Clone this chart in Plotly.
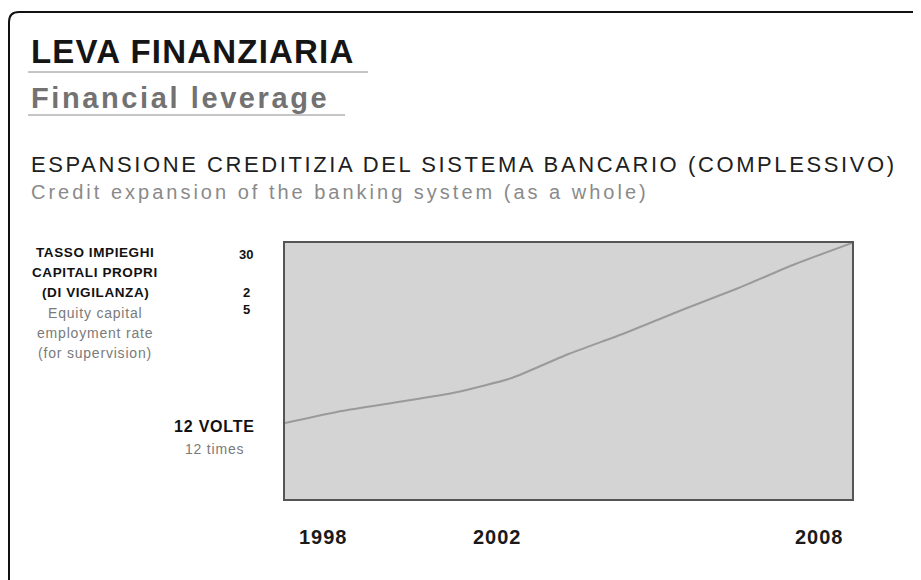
import plotly.graph_objects as go

# ---- data ----
years = [1998, 1999, 2000, 2001, 2002, 2003, 2004, 2005, 2006, 2007, 2008]
leverage = [12.0, 13.2, 14.1, 15.05, 16.5, 18.9, 21.0, 23.3, 25.5, 27.9, 30.0]

x_label_years = [1998, 2002, 2008]
x_label_text = ["1998", "2002", "2008"]

y_label_values = [30, 25]
y_label_text = ["30", "2<br>5"]

title_it = "LEVA FINANZIARIA"
title_en = "Financial leverage"
sub_it = "ESPANSIONE CREDITIZIA DEL SISTEMA BANCARIO (COMPLESSIVO)"
sub_en = "Credit expansion of the banking system (as a whole)"
axis_it = ["TASSO IMPIEGHI", "CAPITALI PROPRI", "(DI VIGILANZA)"]
axis_en = ["Equity capital", "employment rate", "(for supervision)"]
base_it = "12 VOLTE"
base_en = "12 times"

# ---- layout geometry (screen coordinates; page body has an 8px margin) ----
OFF = 8
W, H = 921 - OFF, 580 - OFF
L, R, T, B = 285, 852, 243, 499          # plot box in screen coords
PW, PH = R - L, B - T


def px(xs):
    return (xs - L) / PW


def py(ys):
    return (B - ys) / PH


def sp(text, ls):
    return f"<span style='letter-spacing:{ls}px'>{text}</span>"


FONT = "Liberation Sans, Arial, sans-serif"

fig = go.Figure()
fig.add_trace(go.Scatter(
    x=years, y=leverage, mode="lines",
    line=dict(color="#9a9a9a", width=2, shape="spline", smoothing=0.5),
    hoverinfo="skip", showlegend=False,
))

ann = []
# titles
ann.append(dict(text="<b>" + sp(title_it, 1.2) + "</b>", x=px(29), y=py(51), xanchor="left", yanchor="middle",
                font=dict(family=FONT, size=33, color="#151515"), showarrow=False))
ann.append(dict(text="<b>" + sp(title_en, 2.6) + "</b>", x=px(29), y=py(98), xanchor="left", yanchor="middle",
                font=dict(family=FONT, size=29, color="#727272"), showarrow=False))
ann.append(dict(text=sp(sub_it, 2.6), x=px(29), y=py(164), xanchor="left", yanchor="middle",
                font=dict(family=FONT, size=22, color="#202020"), showarrow=False))
ann.append(dict(text=sp(sub_en, 3.0), x=px(29), y=py(192), xanchor="left", yanchor="middle",
                font=dict(family=FONT, size=20, color="#8a8a8a"), showarrow=False))

# left axis description block
rows_y = [252, 272, 292, 313, 333, 353]
for i, t in enumerate(axis_it):
    ann.append(dict(text="<b>" + sp(t, 0.6) + "</b>", x=px(95), y=py(rows_y[i]), xanchor="center", yanchor="middle",
                    font=dict(family=FONT, size=13.5, color="#111111"), showarrow=False))
for i, t in enumerate(axis_en):
    ann.append(dict(text=sp(t, 0.8), x=px(95), y=py(rows_y[3 + i]), xanchor="center", yanchor="middle",
                    font=dict(family=FONT, size=14, color="#7a7a7a"), showarrow=False))

# y value labels
y_shifts = [-11, -8]
for v, t, s in zip(y_label_values, y_label_text, y_shifts):
    ann.append(dict(text="<b>" + t + "</b>", x=px(246), y=v, yref="y",
                    xanchor="center", yanchor="middle", yshift=s,
                    font=dict(family=FONT, size=13, color="#111111"), showarrow=False))
ann.append(dict(text="<b>" + sp(base_it, 0.8) + "</b>", x=px(214), y=leverage[0], yref="y",
                xanchor="center", yanchor="middle", yshift=-3,
                font=dict(family=FONT, size=16, color="#111111"), showarrow=False))
ann.append(dict(text=sp(base_en, 0.8), x=px(214), y=leverage[0], yref="y",
                xanchor="center", yanchor="middle", yshift=-26,
                font=dict(family=FONT, size=14, color="#7a7a7a"), showarrow=False))

# x year labels
x_anchor = ["left", "center", "right"]
x_shift = [12, -14, -6]
for v, t, a, s in zip(x_label_years, x_label_text, x_anchor, x_shift):
    ann.append(dict(text="<b>" + sp(t, 1) + "</b>", x=v, xref="x", y=py(537),
                    xanchor=a, yanchor="middle", xshift=s,
                    font=dict(family=FONT, size=20, color="#1a1a1a"), showarrow=False))

for a in ann:
    a.setdefault("xref", "paper")
    a.setdefault("yref", "paper")

# outer rounded frame (extends past the right/bottom edges)
x0, y0 = px(OFF + 1), py(12)
x1, y1 = px(940), py(600)
rx, ry = 10 / PW, 10 / PH
frame_path = f"M {x0},{y1} L {x0},{y0 - ry} Q {x0},{y0} {x0 + rx},{y0} L {x1},{y0}"

shapes = [
    dict(type="path", path=frame_path, xref="paper", yref="paper",
         line=dict(color="#111111", width=2)),
    dict(type="line", xref="paper", yref="paper", x0=px(28), x1=px(368), y0=py(72), y1=py(72),
         line=dict(color="#8c8c8c", width=1)),
    dict(type="line", xref="paper", yref="paper", x0=px(28), x1=px(345), y0=py(115), y1=py(115),
         line=dict(color="#8c8c8c", width=1)),
]

fig.update_layout(
    width=W, height=H,
    margin=dict(l=L - OFF, r=W - (R - OFF), t=T - OFF, b=H - (B - OFF), pad=0),
    paper_bgcolor="white",
    plot_bgcolor="#d4d4d4",
    annotations=ann,
    shapes=shapes,
    showlegend=False,
    xaxis=dict(range=[1998, 2008], showgrid=False, zeroline=False, showticklabels=False,
               ticks="", showline=True, linecolor="#555555", linewidth=2, mirror=True),
    yaxis=dict(range=[4.4, 30], showgrid=False, zeroline=False, showticklabels=False,
               ticks="", showline=True, linecolor="#555555", linewidth=2, mirror=True),
)

fig.write_html("out.html")
